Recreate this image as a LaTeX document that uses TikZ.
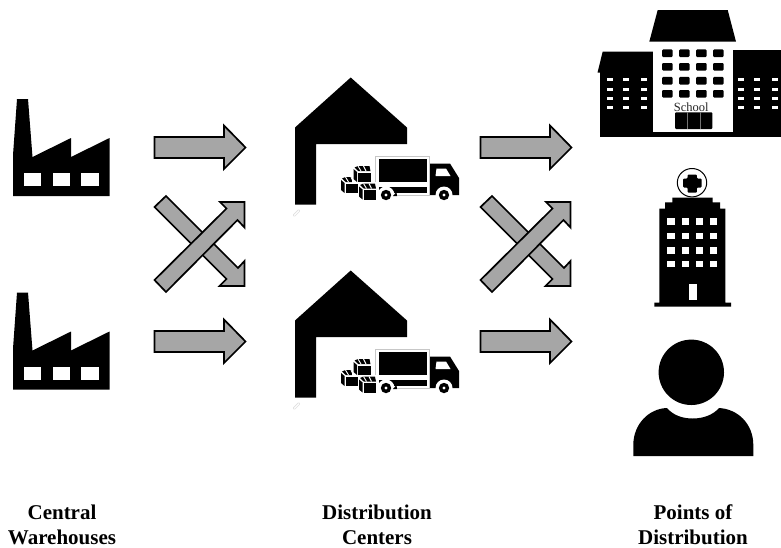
\documentclass[tikz,border=0pt]{standalone}
\usepackage{fontspec}
\setmainfont{Liberation Serif}
\tikzset{
  x=1pt,y=-1pt,
  ink/.style={fill=black,draw=none},
  hole/.style={fill=white,draw=none},
  blockarrow/.style={fill=black!35,draw=black,line width=1.7pt,line join=miter,miter limit=10},
  caption/.style={align=center,font=\bfseries\fontsize{21}{25}\selectfont,inner sep=0pt,anchor=center},
  pics/factory/.style={code={
    \fill[ink] (13,196)--(13,155)--(17,99)--(28,99)--(32.5,157)--(71,138)--(71,157)--(109.5,138)--(109.5,196)--cycle;
    \fill[hole] (24,173) rectangle (41,186);
    \fill[hole] (52.5,173) rectangle (70,186);
    \fill[hole] (81,173) rectangle (98.5,186);
  }},
  pics/straightarrow/.style={code={
    \draw[blockarrow] (154.5,137)--(224,137)--(224,125.5)--(245.5,147.5)--(224,169)--(224,158)--(154.5,158)--cycle;
  }},
  pics/crossarrows/.style={code={
    \draw[blockarrow] (154.5,207)--(166,196)--(238,268)--(244.5,261)--(244.5,286)--(219.5,286)--(226.5,279)--cycle;
    \draw[blockarrow] (154.5,280)--(166,292)--(237.5,220)--(244.5,227.5)--(244.5,202)--(220,202)--(226.5,208.5)--cycle;
  }},
  pics/cube/.style={code={
    \fill[white] (-1.2,-1.2) rectangle (18.2,17.2);
    \fill[ink] (0,3)--(3.6,6)--(3.6,16)--(0,13)--cycle;
    \fill[ink] (4.6,6.5)--(17,6.5)--(17,16)--(4.6,16)--cycle;
    \fill[ink] (1,1.5)--(4.5,0)--(16,0)--(17,5.2)--(5,5.2)--cycle;
    \draw[white,line width=0.9pt] (4.5,0)--(7.5,5) (10,0)--(12.5,5);
  }},
  pics/depot/.style={code={
    \fill[ink] (350.7,77.5)--(407,127.5)--(407,144)--(316,144)--(316,204.5)--(295,204.5)--(295,127.5)--cycle;
    \draw[black!12,line width=0.6pt,rounded corners=0.5pt,rotate around={45:(296.5,213)}] (292.5,212)rectangle(300.5,214);
    % truck load box
    \fill[white] (374.5,155.5) rectangle (430,196);
    \draw[black!22,line width=0.8pt] (375.5,196)--(375.5,156.5)--(429.2,156.5)--(429.2,195)--(396,195);
    \fill[ink] (378.5,159) rectangle (426.7,181.5);
    \fill[ink] (378.5,186.5) rectangle (426.7,192.5);
    % cab
    \fill[ink] (430,163.5)--(450,163.5)--(459,178)--(459,195)--(430,195)--cycle;
    \fill[hole] (436.5,168.5)--(446,168.5)--(450.5,176)--(435.5,176)--cycle;
    % cubes
    \pic at (341,177) {cube};
    \pic at (359,183.5) {cube};
    \pic at (353.5,166) {cube};
    % wheels
    \fill[white] (386,195) circle (8.5);
    \fill[white] (444,195) circle (8.5);
    \fill[ink] (386,195) circle (5.2);
    \fill[ink] (444,195) circle (5.2);
    \fill[white] (386,195) circle (1.6);
    \fill[white] (444,195) circle (1.6);
    \fill[ink] (393,196)--(396.5,192)--(397,196)--cycle;
  }},
  pics/winrow/.style={code={
    \fill[ink,rounded corners=1.2pt] (0,0) rectangle (10.7,#1);
    \fill[ink,rounded corners=1.2pt] (17,0) rectangle (27.5,#1);
    \fill[ink,rounded corners=1.2pt] (34,0) rectangle (44.7,#1);
    \fill[ink,rounded corners=1.2pt] (51,0) rectangle (61.7,#1);
  }},
  pics/wingrow/.style={code={
    \fill[hole] (0,0) rectangle (6,3.5);
    \fill[hole] (16,0) rectangle (22,3.5);
    \fill[hole] (33.5,0) rectangle (39.5,3.5);
  }},
  pics/wingwindows/.style={code={
    \pic at (0,0) {wingrow};
    \pic at (0,10) {wingrow};
    \pic at (0,19) {wingrow};
    \pic at (0,28) {wingrow};
  }},
  pics/hospitalrow/.style={code={
    \fill[hole] (0,0) rectangle (7.3,6.7);
    \fill[hole] (14.4,0) rectangle (21.7,6.7);
    \fill[hole] (28.7,0) rectangle (36,6.7);
    \fill[hole] (42.7,0) rectangle (49.7,6.7);
  }}
}
\begin{document}
\begin{tikzpicture}
\useasboundingbox (0,0) rectangle (781,547);
\fill[white] (0,0) rectangle (781,547);

% factories
\pic at (0,0) {factory};
\pic at (0,193.5) {factory};

% block arrows
\pic at (0,0) {straightarrow};
\pic at (0,194) {straightarrow};
\pic at (326,0) {straightarrow};
\pic at (326,194) {straightarrow};
\pic at (0,0) {crossarrows};
\pic at (326,0) {crossarrows};

% distribution centres
\pic at (0,0) {depot};
\pic at (0,193) {depot};

% school
\fill[ink] (602.7,51.5)--(653,51.5)--(653,72.7)--(597.5,72.7)--cycle;
\fill[ink] (600,72) rectangle (781,137);
\fill[ink] (733,50) rectangle (781,73);
\fill[ink] (657.7,10)--(727.7,10)--(736,41.7)--(649.3,41.7)--cycle;
\fill[hole] (653.3,41.7) rectangle (732.7,132.3);
\pic at (662,49.3) {winrow=7.7};
\pic at (662,63) {winrow=7.7};
\pic at (662,76.8) {winrow=7.7};
\pic at (662,90) {winrow=7.7};
\pic at (607.3,77.5) {wingwindows};
\pic at (738.3,77.5) {wingwindows};
\fill[black,rounded corners=1pt] (675,112.3) rectangle (712.3,129);
\draw[black!55,line width=0.6pt] (687,112.3)--(687,129) (700,112.3)--(700,129);
\node[font=\fontsize{12.5}{14}\selectfont,inner sep=0pt,text=black!85] (schoolsign) at (691.3,107) {School};

% hospital
\draw[black,line width=1pt,fill=white] (692,182.7) ellipse (14.7 and 14.2);
\fill[ink,rounded corners=1pt] (687.5,174.5)--(696.8,174.5)--(696.8,178.5)--(701.7,178.5)--(701.7,187.5)--(696.8,187.5)--(696.8,192.7)--(687.5,192.7)--(687.5,187.5)--(683,187.5)--(683,178.5)--(687.5,178.5)--cycle;
\fill[ink] (672.3,197.7)--(712.7,197.7)--(712.7,202.3)--(720,202.3)--(720,208.7)--(725.3,208.7)--(725.3,302.7)--(731,302.7)--(731,306.7)--(654.3,306.7)--(654.3,302.7)--(659.3,302.7)--(659.3,208.7)--(665,208.7)--(665,202.3)--(672.3,202.3)--cycle;
\pic at (667.3,218.3) {hospitalrow};
\pic at (667.3,232.7) {hospitalrow};
\pic at (667.3,247) {hospitalrow};
\pic at (667.3,260.7) {hospitalrow};
\fill[hole] (689,284.3) rectangle (697,300);

% person
\fill[ink] (691.3,372.3) circle (32.7);
\fill[ink] (633.3,456)--(633.3,445) .. controls (633.3,424) and (649,408.5) .. (667,408) .. controls (673,415) and (682,418.5) .. (692.7,418.5) .. controls (703,418.5) and (713,415) .. (719,408) .. controls (738,409) and (753.3,424) .. (753.3,445)--(753.3,456)--cycle;

% captions
\node[caption] (cw) at (62,525) {Central\\Warehouses};
\node[caption] (dc) at (377,525) {Distribution\\Centers};
\node[caption] (pd) at (693,525) {Points of\\Distribution};
\end{tikzpicture}
\end{document}
